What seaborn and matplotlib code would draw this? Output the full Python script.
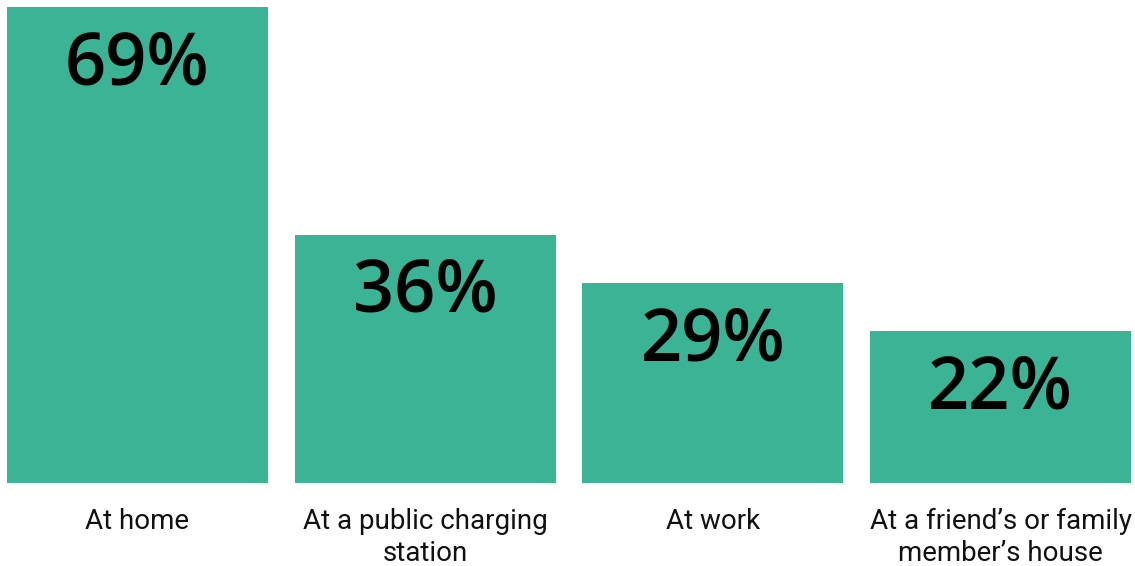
import matplotlib
matplotlib.use("Agg")
import matplotlib.pyplot as plt
import seaborn as sns
import pandas as pd

categories = ["At home", "At a public charging\nstation", "At work",
              "At a friend\u2019s or family\nmember\u2019s house"]
shares = [69, 36, 29, 22]
value_labels = ["69%", "36%", "29%", "22%"]

df = pd.DataFrame({"place": categories, "share": shares})

sns.set_theme(style="white")
plt.rcParams["font.family"] = ["Roboto", "DejaVu Sans"]

W, H = 1135, 566
fig = plt.figure(figsize=(W / 100, H / 100), dpi=100)
left, right, top, bottom = 7, 1131, 7, 483
ax = fig.add_axes([left / W, (H - bottom) / H, (right - left) / W, (bottom - top) / H])

bar_w = 0.9073
sns.barplot(data=df, x="place", y="share", color="#3BB395", saturation=1,
            width=bar_w, ax=ax, edgecolor="none")

ax.set_xlim(-bar_w / 2, len(categories) - 1 + bar_w / 2)
ax.set_ylim(0, 69)
ax.set_xlabel("")
ax.set_ylabel("")
ax.set_yticks([])
for s in ax.spines.values():
    s.set_visible(False)

ax.tick_params(axis="x", length=0, pad=18, labelsize=20, labelcolor="#111111")
for t in ax.get_xticklabels():
    t.set_linespacing(1.22)

for i, (v, lab) in enumerate(zip(shares, value_labels)):
    ax.annotate(lab, xy=(i, v), xytext=(0, -16), textcoords="offset points",
                ha="center", va="top", fontsize=52, fontweight="semibold",
                family=["Open Sans", "DejaVu Sans"], color="black")

fig.savefig("out.png", dpi=100)
